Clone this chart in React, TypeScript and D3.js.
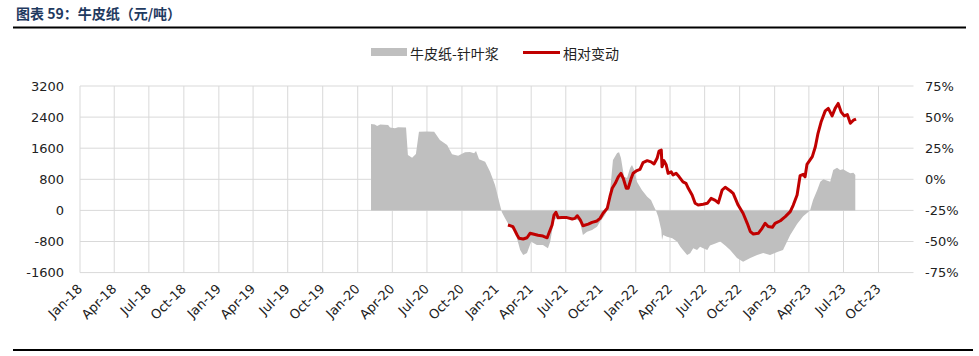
import React from "react";
import * as d3 from "d3";

const title = "图表 59：牛皮纸（元/吨）";
const areaName = "牛皮纸-针叶浆";
const lineName = "相对变动";

const leftTicks = [3200, 2400, 1600, 800, 0, -800, -1600];
const rightTicks = [75, 50, 25, 0, -25, -50, -75];

const areaDates = [
  "2020-02-05","2020-02-15","2020-02-21","2020-02-29","2020-03-21","2020-03-26","2020-04-08","2020-04-16","2020-05-07","2020-05-12",
  "2020-05-23","2020-06-02","2020-06-10","2020-07-01","2020-07-20","2020-08-04","2020-08-23","2020-09-05","2020-09-21","2020-10-09",
  "2020-10-22","2020-11-02","2020-11-07","2020-11-15","2020-12-01","2020-12-14","2020-12-27","2021-01-09","2021-01-14","2021-01-22",
  "2021-02-04","2021-02-18","2021-03-03","2021-03-11","2021-03-21","2021-04-01","2021-04-16","2021-05-02","2021-05-15","2021-05-21",
  "2021-05-31","2021-06-11","2021-06-29","2021-07-18","2021-08-02","2021-08-08","2021-08-15","2021-08-26","2021-09-08","2021-09-21",
  "2021-09-29","2021-10-12","2021-10-20","2021-10-25","2021-11-02","2021-11-13","2021-11-18","2021-11-23","2021-12-01","2021-12-09",
  "2021-12-17","2021-12-22","2021-12-28","2022-01-04","2022-01-17","2022-01-31","2022-02-10","2022-02-18","2022-02-23","2022-03-01",
  "2022-03-09","2022-03-11","2022-03-14","2022-03-24","2022-04-07","2022-04-20","2022-04-28","2022-05-05","2022-05-16","2022-05-24",
  "2022-06-01","2022-06-11","2022-06-19","2022-06-27","2022-07-08","2022-07-15","2022-07-29","2022-08-11","2022-08-24","2022-09-06",
  "2022-09-24","2022-10-10","2022-10-29","2022-11-16","2022-12-02","2022-12-20","2023-01-08","2023-01-23","2023-02-11","2023-03-01",
  "2023-03-17","2023-04-04","2023-04-12","2023-04-23","2023-05-01","2023-05-09","2023-05-27","2023-06-04","2023-06-14","2023-06-22",
  "2023-06-30","2023-07-11","2023-07-19","2023-07-27","2023-08-01"
];
const areaValues = [
  2222,2210,2170,2210,2200,2130,2110,2140,2130,1425,
  1356,1450,2024,2030,2024,1810,1682,1443,1407,1494,
  1500,1470,1528,1314,1253,995,653,139,-50,-195,
  -420,-547,-1018,-1147,-1096,-805,-890,-890,-975,-805,
  -247,-180,-200,-230,-250,-325,-633,-547,-504,-420,
  -290,-120,50,447,1296,1476,1494,1347,867,833,
  1090,1167,1039,738,525,352,267,95,0,-162,
  -504,-761,-633,-676,-718,-805,-933,-1018,-1147,-1104,
  -975,-1018,-933,-975,-1018,-900,-850,-800,-900,-1018,
  -1224,-1320,-1224,-1147,-1096,-1147,-1070,-1018,-633,-350,
  -150,0,267,525,738,800,738,1039,1099,1039,
  1056,996,954,970,910
];

const lineDates = [
  "2021-01-30","2021-02-12","2021-02-23","2021-02-28","2021-03-11","2021-03-21","2021-03-29","2021-04-06","2021-04-19","2021-05-02",
  "2021-05-13","2021-05-18","2021-05-26","2021-05-31","2021-06-05","2021-06-11","2021-06-21","2021-07-04","2021-07-18","2021-07-25",
  "2021-07-31","2021-08-08","2021-08-15","2021-08-29","2021-09-08","2021-09-21","2021-09-29","2021-10-07","2021-10-18","2021-10-25",
  "2021-10-31","2021-11-08","2021-11-16","2021-11-23","2021-11-29","2021-12-07","2021-12-12","2021-12-20","2021-12-25","2022-01-04",
  "2022-01-12","2022-01-20","2022-01-31","2022-02-10","2022-02-18","2022-02-26","2022-03-03","2022-03-09","2022-03-11","2022-03-16",
  "2022-03-22","2022-03-27","2022-04-04","2022-04-09","2022-04-17","2022-04-25","2022-05-05","2022-05-13","2022-05-19","2022-05-29",
  "2022-06-06","2022-06-14","2022-06-27","2022-07-08","2022-07-18","2022-07-29","2022-08-06","2022-08-16","2022-08-24","2022-09-06",
  "2022-09-14","2022-09-27","2022-10-10","2022-10-21","2022-10-29","2022-11-06","2022-11-19","2022-11-29","2022-12-07","2022-12-15",
  "2022-12-26","2023-01-02","2023-01-16","2023-01-29","2023-02-11","2023-02-19","2023-03-01","2023-03-09","2023-03-17","2023-03-22",
  "2023-03-27","2023-04-10","2023-04-18","2023-04-25","2023-05-03","2023-05-14","2023-05-22","2023-06-01","2023-06-09","2023-06-17",
  "2023-06-25","2023-07-03","2023-07-11","2023-07-19","2023-07-27","2023-08-03"
];
const lineValues = [
  -36.7,-38,-44.8,-47.4,-48,-47,-43.4,-44,-45,-45.6,
  -47,-43,-36.7,-28.7,-26.5,-31,-30.8,-30.8,-31.9,-31.4,
  -29.3,-32.7,-37.3,-36,-34.6,-33.5,-31.4,-27.3,-23.3,-14,
  -7.2,-3.2,2,4.8,0.8,-7.2,-7.2,0.8,4.8,7,
  8,13.4,15,14,12.3,16.9,22.7,23.5,10,15,
  11.5,4.8,6,3.5,4.8,2,-2,-3.2,-7.2,-12.6,
  -19.3,-20.7,-20,-19.3,-15.3,-17,-19,-8.6,-6.4,-9.2,
  -11.3,-20.7,-27.3,-35.4,-42,-44,-43.4,-39.4,-35.4,-38,
  -38.6,-35.4,-33.3,-30,-26,-20.7,-12.6,3,4,2,
  12,18.2,26.2,37,46,55,57,51,57,61,
  54,51,52,45,47.5,48.4
];

const monthNames = ["Jan","Feb","Mar","Apr","May","Jun","Jul","Aug","Sep","Oct","Nov","Dec"];

export default function App() {
  const W = 979, H = 356;
  const left = 80, right = 913.5, top = 86, bottom = 272.6;
  const parse = d3.timeParse("%Y-%m-%d");
  const x = d3.scaleTime().domain([new Date(2018, 0, 1), new Date(2024, 0, 1)]).range([left, right]);
  const yL = d3.scaleLinear().domain([-1600, 3200]).range([bottom, top]);
  const yR = d3.scaleLinear().domain([-75, 75]).range([bottom, top]);

  const areaData = areaDates.map((d, i) => ({ d: parse(d) as Date, v: areaValues[i] }));
  const lineData = lineDates.map((d, i) => ({ d: parse(d) as Date, v: lineValues[i] }));

  const areaGen = d3.area<{ d: Date; v: number }>().x(p => x(p.d)).y0(yL(0)).y1(p => yL(p.v));
  const lineGen = d3.line<{ d: Date; v: number }>().x(p => x(p.d)).y(p => yR(p.v));

  const quarterTicks = d3.timeMonth.every(3)!.range(new Date(2018, 0, 1), new Date(2024, 0, 1));
  const fmt = (d: Date) => `${monthNames[d.getMonth()]}-${String(d.getFullYear()).slice(2)}`;

  const font = "'DejaVu Sans', 'Noto Sans CJK SC', sans-serif";
  const cjk = "'Noto Sans CJK SC', 'DejaVu Sans', sans-serif";
  const grid = "#D9D9D9";

  return (
    <svg width={W} height={H} style={{ position: "absolute", left: 0, top: 0, background: "#fff" }}>
      <text x={16} y={19} fontFamily={cjk} fontWeight="bold" fontSize={14} fill="#1F3A5F">{title}</text>
      <line x1={13} x2={966} y1={27.5} y2={27.5} stroke="#000" strokeWidth={2} />
      <line x1={13} x2={973} y1={350} y2={350} stroke="#000" strokeWidth={2} />

      {/* legend */}
      <rect x={371} y={48} width={36} height={8} fill="#BFBFBF" />
      <text x={410} y={53} dominantBaseline="central" fontFamily={cjk} fontSize={14} fill="#222">{areaName}</text>
      <line x1={523} x2={560} y1={52.5} y2={52.5} stroke="#C00000" strokeWidth={3} />
      <text x={563} y={53} dominantBaseline="central" fontFamily={cjk} fontSize={14} fill="#222">{lineName}</text>

      {/* grid */}
      {leftTicks.map(t => (
        <line key={"h" + t} x1={left} x2={right} y1={yL(t)} y2={yL(t)} stroke={grid} strokeWidth={1} />
      ))}
      {quarterTicks.map((d, i) => (
        <line key={"v" + i} x1={x(d)} x2={x(d)} y1={top} y2={bottom} stroke={grid} strokeWidth={1} />
      ))}

      <path d={areaGen(areaData) || ""} fill="#BFBFBF" />
      <path d={lineGen(lineData) || ""} fill="none" stroke="#C00000" strokeWidth={3} strokeLinejoin="round" />

      {leftTicks.map(t => (
        <text key={"l" + t} x={64} y={yL(t)} textAnchor="end" dominantBaseline="central" fontFamily={font} fontSize={13} fill="#222">{t}</text>
      ))}
      {rightTicks.map(t => (
        <text key={"r" + t} x={925} y={yR(t)} textAnchor="start" dominantBaseline="central" fontFamily={font} fontSize={13} fill="#222">{t + "%"}</text>
      ))}
      {quarterTicks.map((d, i) => (
        <text key={"x" + i} transform={`translate(${x(d) + 3},${bottom + 17}) rotate(-45)`} textAnchor="end" fontFamily={font} fontSize={13} fill="#222">{fmt(d)}</text>
      ))}
    </svg>
  );
}
